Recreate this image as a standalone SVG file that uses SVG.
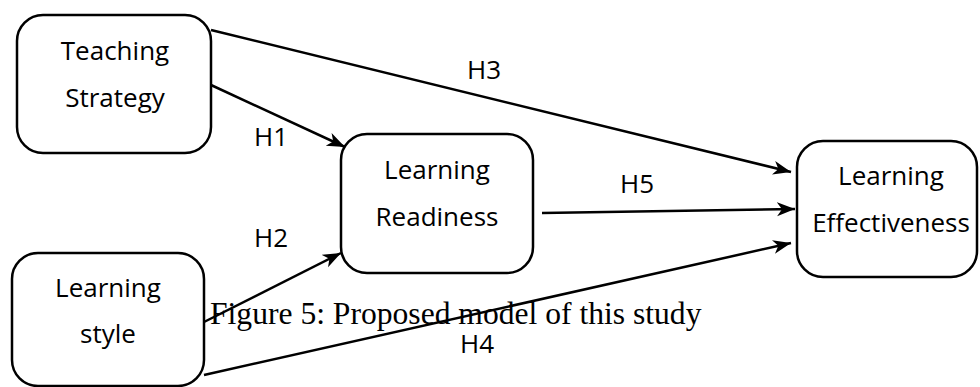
<svg xmlns="http://www.w3.org/2000/svg" width="980" height="387" viewBox="0 0 980 387">
<style>
.box{fill:#fff;stroke:#000;stroke-width:2.5}
.lbl{font-family:"Open Sans","Noto Sans",sans-serif;font-size:26px;fill:#000;text-anchor:middle}
.h{font-family:"Open Sans","Noto Sans",sans-serif;font-size:26px;fill:#000}
.cap{font-family:"Liberation Serif","Times New Roman",serif;font-size:31.6px;fill:#000}
.ln{stroke:#000;stroke-width:2.5;fill:none;marker-end:url(#ah)}
</style>
<defs>
<marker id="ah" markerUnits="userSpaceOnUse" markerWidth="20" markerHeight="16" viewBox="0 0 20 16" refX="18" refY="8" orient="auto">
<path d="M0,1 L18,8 L0,15 L5,8 Z" fill="#000"/>
</marker>
</defs>
<rect width="980" height="387" fill="#fff"/>
<g id="connectors">
<line class="ln" x1="211" y1="30" x2="791" y2="172"/>
<line class="ln" x1="211" y1="85" x2="345" y2="147"/>
<line class="ln" x1="204" y1="322" x2="341" y2="253"/>
<line class="ln" x1="204" y1="375" x2="791" y2="243"/>
<line class="ln" x1="542" y1="213" x2="795" y2="209"/>
</g>
<g id="teaching-strategy">
<rect class="box" x="17" y="15" width="194" height="138" rx="26"/>
<text class="lbl" x="115" y="60">Teaching</text>
<text class="lbl" x="115" y="107">Strategy</text>
</g>
<g id="learning-style">
<rect class="box" x="12" y="253" width="192" height="133" rx="26"/>
<text class="lbl" x="108" y="297">Learning</text>
<text class="lbl" x="108" y="343">style</text>
</g>
<g id="learning-readiness">
<rect class="box" x="341" y="134" width="192" height="139" rx="26"/>
<text class="lbl" x="437" y="179">Learning</text>
<text class="lbl" x="437" y="226">Readiness</text>
</g>
<g id="learning-effectiveness">
<rect class="box" x="797" y="141" width="180" height="136" rx="26"/>
<text class="lbl" x="891" y="185">Learning</text>
<text class="lbl" x="891" y="232">Effectiveness</text>
</g>
<g id="labels">
<text class="h" x="467" y="79">H3</text>
<text class="h" x="254" y="146">H1</text>
<text class="h" x="254" y="247">H2</text>
<text class="h" x="620" y="193">H5</text>
<text class="h" x="460" y="353">H4</text>
</g>
<text class="cap" x="210" y="324">Figure 5: Proposed model of this study</text>
</svg>
